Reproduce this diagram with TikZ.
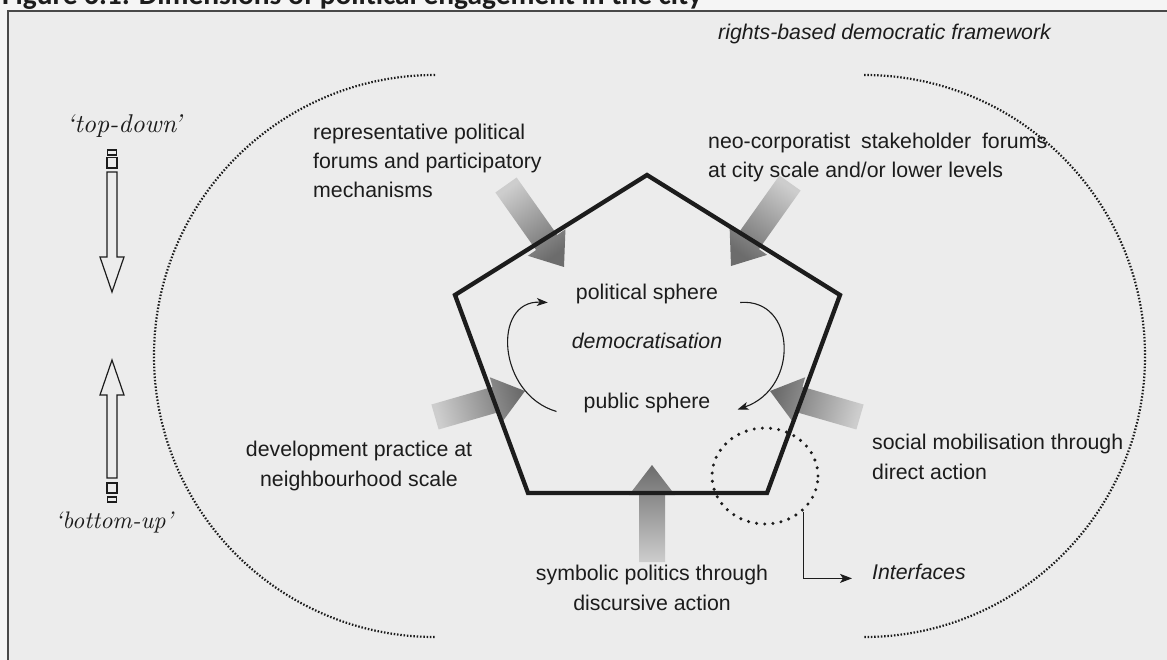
\documentclass[tikz,border=0pt]{standalone}
\usepackage{fontspec}
\setsansfont{Liberation Sans}
\newfontfamily\titlefont{Carlito}
\usetikzlibrary{calc,arrows.meta,shapes.geometric}

\definecolor{paper}{HTML}{F5F5F5}
\definecolor{panel}{HTML}{ECECEC}
\definecolor{ink}{HTML}{1C1C1C}
\definecolor{dotink}{HTML}{1A1A1A}
\definecolor{arrowlight}{HTML}{CDCDCD}
\definecolor{arrowdark}{HTML}{6C6C6C}

% broad shaded arrow from tail #1 to head #2, gradient turned by #3
\newcommand\fatarrow[3]{%
  \coordinate (fab) at ($(#2)!30pt!(#1)$);
  \shade[shading=axis, top color=arrowlight, bottom color=arrowdark, shading angle=#3]
    ($(#1)!13pt!90:(#2)$) -- ($(fab)!13pt!-90:(#1)$) -- ($(fab)!23pt!-90:(#1)$) -- (#2)
    -- ($(fab)!23pt!90:(#1)$) -- ($(fab)!13pt!90:(#1)$) -- ($(#1)!13pt!-90:(#2)$) -- cycle;
}

\begin{document}
\begin{tikzpicture}[x=1pt,y=-1pt,
  txt/.style={anchor=base west, inner sep=0pt, text=ink,
    font=\sffamily\fontsize{21.3}{29}\selectfont},
  ctxt/.style={txt, anchor=base},
  itxt/.style={txt, font=\sffamily\itshape\fontsize{21.3}{29}\selectfont},
  sertxt/.style={anchor=base, inner sep=0pt, text=ink},
  bigdots/.style={dotink, line width=2.2pt, line cap=butt, dash pattern=on 1.5pt off 1.8pt},
  ifacedots/.style={draw=ink, line width=3.4pt, line cap=round, dash pattern=on 0pt off 8.2pt},
  hollow/.style={draw=ink, line width=1.2pt, line join=miter},
  penta/.style={draw=ink, line width=4.3pt, line join=miter},
  cyc/.style={draw=ink, line width=1.1pt, -{Stealth[length=11pt,width=8pt,inset=3pt]}},
  link/.style={draw=ink, line width=1.1pt, -{Stealth[length=12pt,width=9pt,inset=3pt]}}
]
\useasboundingbox (0,0) rectangle (1167,660);
\clip (0,0) rectangle (1167,660);
\fill[paper] (0,0) rectangle (1167,660);

% caption above the panel (only its lower part falls on the page)
\node[anchor=base west, inner sep=0pt, text=ink] (title) at (2,4.5)
  {\resizebox{700pt}{!}{\titlefont\bfseries Figure 6.1: Dimensions of political engagement in the city}};

% panel
\fill[panel] (8,11) rectangle (1200,700);
\draw[draw=ink!80, line width=1.4pt] (8,700) -- (8,11) -- (1200,11);

% rights-based framework: two dotted arcs
\draw[bigdots] (435,75) arc[start angle=270, end angle=90, radius=281];
\draw[bigdots] (864,75) arc[start angle=270, end angle=450, radius=281];
\node[itxt] (rights) at (718,40) {rights-based democratic framework};

% top-down / bottom-up arrows
\node[sertxt] (td) at (124,133) {\resizebox{115pt}{!}{\rmfamily\itshape ‘top-down’}};
\draw[hollow] (107.5,150) rectangle (116.5,155);
\draw[hollow] (107,157.5) rectangle (117,168);
\draw[hollow] (107,172) -- (117,172) -- (117,257) -- (124,257) -- (112,292)
  -- (100,257) -- (107,257) -- cycle;
\draw[hollow] (107,478) -- (107,395) -- (100,395) -- (112,360) -- (124,395)
  -- (117,395) -- (117,478) -- cycle;
\draw[hollow] (107,483) rectangle (117,493);
\draw[hollow] (107.5,497) rectangle (116.5,502);
\node[sertxt] (bu) at (114,528) {\resizebox{118pt}{!}{\rmfamily\itshape ‘bottom-up’}};

% shaded arrows towards the pentagon
\coordinate (a1t) at (506,185);  \coordinate (a1h) at (564,267);
\coordinate (a2t) at (790,183);  \coordinate (a2h) at (731,266);
\coordinate (a3t) at (435,417);  \coordinate (a3h) at (525,391);
\coordinate (a4t) at (860,417);  \coordinate (a4h) at (770,391);
\coordinate (a5t) at (652,562);  \coordinate (a5h) at (652,465);
\fatarrow{a1t}{a1h}{35.4}
\fatarrow{a2t}{a2h}{-35.5}
\fatarrow{a3t}{a3h}{105.6}
\fatarrow{a4t}{a4h}{254.4}
\fatarrow{a5t}{a5h}{180}

% pentagon
\coordinate (pT) at (647,175);
\coordinate (pR) at (840,295);
\coordinate (pBR) at (767,493);
\coordinate (pBL) at (528,493);
\coordinate (pL) at (455,295);
\draw[penta] (pT) -- (pR) -- (pBR) -- (pBL) -- (pL) -- cycle;

% inner cycle
\node[ctxt] (ps) at (647,300) {political sphere};
\node[ctxt, font=\sffamily\itshape\fontsize{21.3}{29}\selectfont] (dem) at (647,348) {democratisation};
\node[ctxt] (pub) at (647,408) {public sphere};
\draw[cyc] ([xshift=-27pt,yshift=-9pt]pub.west) .. controls (497,394) and (492,300) .. ([xshift=-28pt,yshift=-8pt]ps.west);
\draw[cyc] ([xshift=22pt,yshift=-8pt]ps.east) .. controls (796,298) and (800,388) .. ([xshift=27pt,yshift=-7pt]pub.east);

% the five forms of engagement
\node[txt] (rep1) at (313,140) {representative political};
\node[txt] (rep2) at (313,169) {forums and participatory};
\node[txt] (rep3) at (313,198) {mechanisms};

\node[txt] (neo1) at (708,149) {\makebox[339pt][s]{neo-corporatist stakeholder forums}};
\node[txt] (neo2) at (708,178) {at city scale and/or lower levels};

\node[ctxt] (dev1) at (359,456) {development practice at};
\node[ctxt] (dev2) at (359,486) {neighbourhood scale};

\node[txt] (soc1) at (872,449) {social mobilisation through};
\node[txt] (soc2) at (872,479) {direct action};

\node[ctxt] (sym1) at (652,580) {symbolic politics through};
\node[ctxt] (sym2) at (652,610) {discursive action};

% interfaces
\node[ellipse, ifacedots, minimum width=106pt, minimum height=96pt, inner sep=0pt] (iface) at (765,476) {};
\node[itxt] (ifl) at (872,579) {Interfaces};
\draw[link] (iface.-43) |- ([xshift=-20pt,yshift=-7pt]ifl.west);
\end{tikzpicture}
\end{document}
